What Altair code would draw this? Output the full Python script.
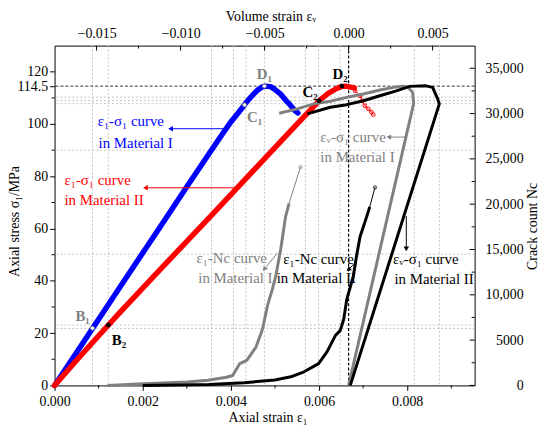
import altair as alt
import pandas as pd

# ---------------- data ----------------
# e1-sigma1, Material I (blue)
blue_e1 = [0, 0.0005, 0.001, 0.0015, 0.002, 0.0025, 0.003, 0.0035, 0.0038, 0.0040,
           0.0042, 0.0043, 0.0044, 0.0045, 0.0046, 0.0047, 0.00478, 0.0049, 0.0050,
           0.00513, 0.00525, 0.00536, 0.00545, 0.00552]
blue_s = [0, 12.6, 25.3, 38.0, 50.7, 63.3, 76.0, 88.5, 96.0, 100.8,
          105.0, 107.1, 109.3, 111.2, 112.9, 114.1, 114.5, 114.3, 113.2,
          111.4, 109.0, 107.0, 105.2, 104.2]
# e1-sigma1, Material II (red)
red_e1 = [0, 0.0005, 0.001, 0.0015, 0.002, 0.0025, 0.003, 0.0035, 0.004, 0.0045,
          0.005, 0.0055, 0.006, 0.0062, 0.0064, 0.0065, 0.0066, 0.0068]
red_s = [0, 9.6, 19.0, 28.2, 37.2, 46.2, 55.1, 64.0, 73.0, 82.0,
         91.0, 100.0, 108.9, 111.6, 113.6, 114.3, 114.5, 113.8]
red_post_e1 = [0.0068, 0.00682, 0.00693, 0.00698, 0.00704, 0.00712, 0.00719, 0.00723]
red_post_s = [113.8, 112.7, 110.8, 108.9, 107.0, 105.8, 104.5, 103.6]
# ev-sigma1 (top axis), Material I (grey) and II (black), in path order
gv_ev = [0, 0.00387, 0.00381, 0.00355, 0.00324, 0.00284, 0.00186, 0.00088,
         -0.00011, -0.00109, -0.00207, -0.00305, -0.00413]
gv_s = [0, 107.8, 112.1, 114.0, 114.5, 114.2, 113.0, 111.5,
        110.2, 108.7, 107.7, 105.8, 104.1]
bv_ev = [0.0001, 0.0054, 0.0053, 0.0050, 0.00461, 0.00363, 0.00284, 0.00186,
         0.00088, -0.00011, -0.00109, -0.00246]
bv_s = [0, 107.7, 109.6, 114.0, 114.6, 114.4, 112.7, 110.8,
        108.9, 107.4, 106.4, 103.9]
# e1-Nc (right axis)
gn_e1 = [0.0012, 0.002, 0.003, 0.00348, 0.0039, 0.00404, 0.0042, 0.00436, 0.00457,
         0.00472, 0.00483, 0.00494, 0.00502, 0.00513, 0.00524, 0.00532]
gn_nc = [0, 190, 370, 580, 900, 1100, 2400, 2770, 4230,
         6250, 8800, 10600, 12100, 15000, 18600, 20100]
gn_tail_e1 = [0.00532, 0.00558]
gn_tail_nc = [20100, 24100]
bn_e1 = [0.002, 0.0035, 0.0043, 0.0050, 0.00536, 0.00566, 0.00599, 0.00618, 0.00637,
         0.00648, 0.00656, 0.00663, 0.00678, 0.00685, 0.00693, 0.00708, 0.00715]
bn_nc = [0, 100, 300, 600, 950, 1500, 2400, 3700, 5500,
         6050, 7300, 9500, 12100, 14250, 16400, 18600, 19700]
bn_tail_e1 = [0.00715, 0.00727]
bn_tail_nc = [19700, 21850]

# characteristic points
pt_e1 = [0.00086, 0.00431, 0.00476, 0.00122, 0.0060, 0.00652]
pt_s = [21.9, 107.3, 114.5, 23.1, 108.9, 114.5]
pt_fill = ["white", "white", "white", "black", "black", "black"]
pt_stroke = ["#808080", "#808080", "#808080", "black", "black", "black"]
lab_text = ["B₁", "C₁", "D₁", "B₂", "C₂", "D₂"]
lab_e1 = [0.000636, 0.00454, 0.00476, 0.00146, 0.0058, 0.00648]
lab_s = [26.7, 102.8, 119.0, 17.2, 112.1, 119.0]
lab_color = ["#808080", "#808080", "#808080", "black", "black", "black"]

# annotations
ann_text = ["ε₁-σ₁ curve", "in Material I", "ε₁-σ₁ curve", "in Material II",
            "εᵥ-σ₁ curve", "in Material I", "ε₁-Nc curve", "in Material I",
            "ε₁-Nc curve", "in Material II", "εᵥ-σ₁ curve", "in Material II"]
ann_e1 = [0.000978, 0.000998, 0.000225, 0.000225, 0.00603, 0.00603,
          0.00322, 0.00326, 0.00519, 0.00504, 0.00768, 0.00771]
ann_s = [101.3, 92.7, 78.6, 71.0, 95.0, 87.2, 48.8, 40.9, 48.5, 40.9, 48.3, 40.7]
ann_color = ["#0000ff", "#0000ff", "#ff0000", "#ff0000", "#808080", "#808080",
             "#808080", "#808080", "black", "black", "black", "black"]
arr_e1 = [0.00389, 0.00408, 0.00798, 0.00506, 0.00685, 0.00798]
arr_s = [98.2, 75.6, 95.0, 50.7, 47.5, 64.8]
arr_e1_head = [0.00265, 0.00208, 0.00760, 0.00477, 0.00668, 0.00798]
arr_s_head = [98.2, 75.6, 95.0, 44.7, 44.5, 52.5]
arr_angle = [270, 270, 270, 218, 234, 180]
arr_color = ["#0000ff", "#ff0000", "#808080", "#808080", "black", "black"]

# reference (grid) lines
vgrid_e1 = [0.00086, 0.00122, 0.00356, 0.00406, 0.00434, 0.00476, 0.00569,
            0.00599, 0.00648, 0.00816, 0.00873]
hgrid_s = [21.8, 23.1, 50.2, 90.0, 107.8, 109.0, 110.3]
peak_s = [114.5]
zero_ev = [0.0]

# axis ticks
bot_major = [0, 0.002, 0.004, 0.006, 0.008]
bot_minor = [0.001, 0.003, 0.005, 0.007, 0.009]
left_major = [0, 20, 40, 60, 80, 100, 114.5, 120]
left_minor = [10, 30, 50, 70, 90, 110]
top_major = [-0.015, -0.010, -0.005, 0.0, 0.005]
top_minor = [-0.0125, -0.0075, -0.0025, 0.0025]
right_major = [0, 5000, 10000, 15000, 20000, 25000, 30000, 35000]
right_minor = [2500, 7500, 12500, 17500, 22500, 27500, 32500]

# ---------------- chart ----------------
W, H = 424, 343
FONT = "Liberation Serif"
X1 = alt.Scale(domain=[0, 0.00953], nice=False, zero=False)
XV = alt.Scale(domain=[-0.0175, 0.0075], nice=False, zero=False)
YS = alt.Scale(domain=[0, 130], nice=False, zero=False)
YN = alt.Scale(domain=[0, 37500], nice=False, zero=False)


def xb(f="x"):
    return alt.X(f, type="quantitative", scale=X1, axis=None)


def xv(f="x"):
    return alt.X(f, type="quantitative", scale=XV, axis=None)


def ys(f="y"):
    return alt.Y(f, type="quantitative", scale=YS, axis=None)


def yn(f="y"):
    return alt.Y(f, type="quantitative", scale=YN, axis=None)


def df(x, y=None, **kw):
    d = {"x": x}
    if y is not None:
        d["y"] = y
    d.update(kw)
    d["i"] = list(range(len(x)))
    return pd.DataFrame(d)


layers = []
# grid lines
layers.append(alt.Chart(pd.DataFrame({"x": vgrid_e1})).mark_rule(
    color="#c4c4c4", strokeDash=[2, 2], strokeWidth=1).encode(x=xb()))
layers.append(alt.Chart(pd.DataFrame({"y": hgrid_s})).mark_rule(
    color="#c4c4c4", strokeDash=[2, 2], strokeWidth=1).encode(y=ys()))
layers.append(alt.Chart(pd.DataFrame({"y": peak_s})).mark_rule(
    color="#333333", strokeDash=[3, 2], strokeWidth=1).encode(y=ys()))
layers.append(alt.Chart(pd.DataFrame({"x": zero_ev})).mark_rule(
    color="black", strokeDash=[3, 2], strokeWidth=1.2).encode(x=xv()))

# blue curve carries bottom + left axes
bottom_axis = alt.Axis(orient="bottom", values=bot_major, format=".3f", tickSize=5,
                       labelPadding=4, labelFlush=False, title="Axial strain ε₁",
                       titleX=215, titleY=32, titleBaseline="middle", grid=False)
left_axis = alt.Axis(orient="left", values=left_major, tickSize=5, labelPadding=2,
                     labelFlush=False, labelOverlap=False,
                     labelExpr="datum.value == 114.5 ? '114.5' : format(datum.value, 'd')",
                     title="Axial stress σ₁/MPa", titleX=-40, titleY=177,
                     titleBaseline="middle", titleAngle=270, grid=False)
layers.append(alt.Chart(df(blue_e1, blue_s)).mark_line(
    color="#0000ff", strokeWidth=5.5, strokeCap="round", strokeJoin="round").encode(
    x=alt.X("x:Q", scale=X1, axis=bottom_axis),
    y=alt.Y("y:Q", scale=YS, axis=left_axis)))
layers.append(alt.Chart(df(red_e1, red_s)).mark_line(
    color="#ff0000", strokeWidth=5.5, strokeCap="round", strokeJoin="round").encode(
    x=xb(), y=ys()))
layers.append(alt.Chart(df(red_post_e1, red_post_s)).mark_line(
    color="#ff0000", strokeWidth=1).encode(x=xb(), y=ys()))
layers.append(alt.Chart(df(red_post_e1, red_post_s)).mark_point(
    color="#ff0000", size=14, strokeWidth=1, filled=False, opacity=1).encode(x=xb(), y=ys()))

# volume strain curves carry top axis
top_axis = alt.Axis(orient="top", values=top_major, format=".3f", ticks=False, tickSize=0,
                    labelPadding=5, labelFlush=False, title="Volume strain εᵥ",
                    titleX=218, titleY=-29, titleBaseline="middle", grid=False)
layers.append(alt.Chart(df(gv_ev, gv_s)).mark_line(
    color="#808080", strokeWidth=3, strokeJoin="round").encode(
    x=alt.X("x:Q", scale=XV, axis=top_axis), y=ys(), order="i:Q"))
layers.append(alt.Chart(df(bv_ev, bv_s)).mark_line(
    color="black", strokeWidth=3, strokeJoin="round").encode(
    x=xv(), y=ys(), order="i:Q"))

# crack count curves carry right axis
right_axis = alt.Axis(orient="right", values=right_major, ticks=False, tickSize=0,
                      labelPadding=49, labelAlign="right", labelFlush=False,
                      labelExpr="datum.value < 10000 ? format(datum.value, 'd') : format(datum.value, ',d')",
                      title="Crack count Nc", titleX=58, titleY=182, titleAngle=270,
                      titleBaseline="middle", grid=False)
layers.append(alt.Chart(df(gn_e1, gn_nc)).mark_line(
    color="#808080", strokeWidth=3, strokeJoin="round").encode(
    x=xb(), y=alt.Y("y:Q", scale=YN, axis=right_axis)))
layers.append(alt.Chart(df(bn_e1, bn_nc)).mark_line(
    color="black", strokeWidth=3, strokeJoin="round").encode(x=xb(), y=yn()))
layers.append(alt.Chart(df(gn_tail_e1, gn_tail_nc)).mark_line(
    color="#808080", strokeWidth=1).encode(x=xb(), y=yn()))
layers.append(alt.Chart(df(bn_tail_e1, bn_tail_nc)).mark_line(
    color="black", strokeWidth=1).encode(x=xb(), y=yn()))
layers.append(alt.Chart(df([gn_tail_e1[-1], bn_tail_e1[-1]], [gn_tail_nc[-1], bn_tail_nc[-1]],
                           c=["#808080", "black"])).mark_point(
    size=10, filled=False, strokeWidth=0.8, opacity=1).encode(
    x=xb(), y=yn(), color=alt.Color("c:N", scale=None)))

# characteristic points
layers.append(alt.Chart(df(pt_e1, pt_s, f=pt_fill, s=pt_stroke)).mark_point(
    size=16, filled=True, strokeWidth=1, opacity=1).encode(
    x=xb(), y=ys(), fill=alt.Fill("f:N", scale=None), stroke=alt.Stroke("s:N", scale=None)))
layers.append(alt.Chart(df(lab_e1, lab_s, t=lab_text, c=lab_color)).mark_text(
    font=FONT, fontSize=15, fontWeight="bold", align="center", baseline="middle").encode(
    x=xb(), y=ys(), text="t:N", color=alt.Color("c:N", scale=None)))

# annotation text
layers.append(alt.Chart(df(ann_e1, ann_s, t=ann_text, c=ann_color)).mark_text(
    font=FONT, fontSize=15, align="left", baseline="middle").encode(
    x=xb(), y=ys(), text="t:N", color=alt.Color("c:N", scale=None)))
# arrows
layers.append(alt.Chart(pd.DataFrame({"x": arr_e1, "y": arr_s, "x2": arr_e1_head,
                                      "y2": arr_s_head, "c": arr_color})).mark_rule(
    strokeWidth=1).encode(x=xb(), y=ys(), x2="x2:Q", y2="y2:Q",
                          color=alt.Color("c:N", scale=None)))
layers.append(alt.Chart(pd.DataFrame({"x": arr_e1_head, "y": arr_s_head, "a": arr_angle,
                                      "c": arr_color})).mark_point(
    shape="triangle", filled=True, size=30, opacity=1).encode(
    x=xb(), y=ys(), angle=alt.Angle("a:Q", scale=None),
    color=alt.Color("c:N", scale=None)))

# manual minor / inward ticks
layers.append(alt.Chart(pd.DataFrame({"x": bot_minor})).mark_rule(color="black").encode(
    x=xb(), y=alt.value(H), y2=alt.value(H + 3)))
layers.append(alt.Chart(pd.DataFrame({"y": left_minor})).mark_rule(color="black").encode(
    y=ys(), x=alt.value(0), x2=alt.value(-3)))
layers.append(alt.Chart(pd.DataFrame({"x": top_major})).mark_rule(color="black").encode(
    x=xv(), y=alt.value(0), y2=alt.value(5)))
layers.append(alt.Chart(pd.DataFrame({"x": top_minor})).mark_rule(color="black").encode(
    x=xv(), y=alt.value(0), y2=alt.value(3)))
layers.append(alt.Chart(pd.DataFrame({"y": right_major})).mark_rule(color="black").encode(
    y=yn(), x=alt.value(W), x2=alt.value(W - 5)))
layers.append(alt.Chart(pd.DataFrame({"y": right_minor})).mark_rule(color="black").encode(
    y=yn(), x=alt.value(W), x2=alt.value(W - 3)))

chart = alt.layer(*layers).resolve_scale(
    x="independent", y="independent"
).properties(
    width=W, height=H,
    autosize=alt.AutoSizeParams(type="none"),
    padding={"left": 47, "top": 36, "right": 68, "bottom": 38},
    background="white",
).configure_view(
    strokeWidth=0
).configure_axis(
    labelFont=FONT, labelFontSize=14, labelColor="black",
    titleFont=FONT, titleFontSize=14, titleFontWeight="normal", titleColor="black",
    domainColor="black", domainWidth=1, tickColor="black", tickWidth=1,
)

chart.save("out.html", embed_options={"renderer": "svg", "actions": False})
